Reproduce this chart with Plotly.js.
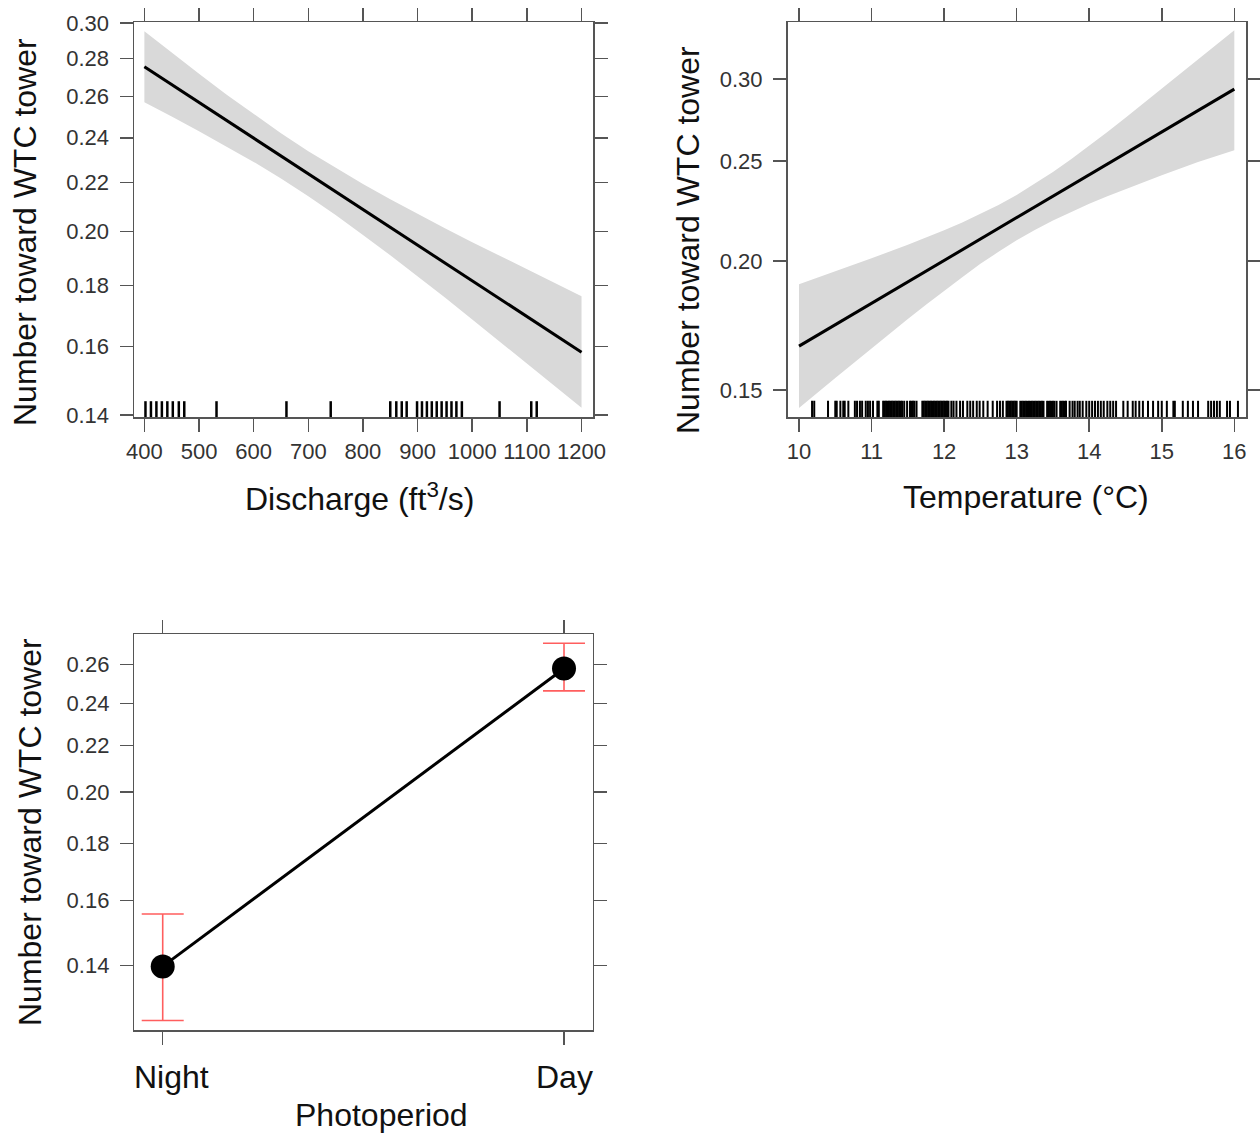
<!DOCTYPE html>
<html>
<head>
<meta charset="utf-8">
<script src="https://cdn.plot.ly/plotly-3.0.1.min.js"></script>
<style>html,body{margin:0;padding:0;background:#fff;}#chart{width:1260px;height:1133px;}</style>
</head>
<body>
<div id="chart"></div>
<script>
// ---- Panel 1: Discharge ----
const dischargeX     = [400, 450, 500, 550, 600, 650, 700, 750, 800, 850, 900, 950, 1000, 1050, 1100, 1150, 1200];
const dischargeFit   = [0.2755, 0.2661, 0.2570, 0.2483, 0.2398, 0.2317, 0.2238, 0.2162, 0.2088, 0.2017, 0.1948, 0.1882, 0.1818, 0.1756, 0.1696, 0.1638, 0.1582];
const dischargeUpper = [0.2952, 0.2831, 0.2718, 0.2611, 0.2512, 0.2421, 0.2338, 0.2263, 0.2194, 0.2130, 0.2070, 0.2013, 0.1959, 0.1908, 0.1858, 0.1810, 0.1764];
const dischargeLower = [0.2571, 0.2501, 0.2431, 0.2361, 0.2290, 0.2217, 0.2142, 0.2065, 0.1987, 0.1910, 0.1834, 0.1759, 0.1686, 0.1616, 0.1548, 0.1483, 0.1420];
const dischargeRug   = [402, 412, 422, 432, 442, 452, 463, 473, 532, 660, 741,
                        850, 861, 871, 880, 899, 908, 917, 926, 935, 944, 953, 962, 971, 981,
                        1050, 1108, 1118];
const dischargeTicks = [400, 500, 600, 700, 800, 900, 1000, 1100, 1200];
const dischargeYTicks = [0.14, 0.16, 0.18, 0.20, 0.22, 0.24, 0.26, 0.28, 0.30];

// ---- Panel 2: Temperature ----
const tempX     = [10, 10.5, 11, 11.5, 11.75, 12, 12.25, 12.5, 12.75, 13, 13.25, 13.5, 13.75, 14, 14.25, 14.5, 15, 15.5, 16];
const tempFit   = [0.1654, 0.1735, 0.1820, 0.1909, 0.1955, 0.2002, 0.2050, 0.2100, 0.2151, 0.2203, 0.2256, 0.2310, 0.2366, 0.2423, 0.2482, 0.2542, 0.2666, 0.2796, 0.2933];
const tempUpper = [0.1899, 0.1954, 0.2012, 0.2073, 0.2106, 0.2142, 0.2179, 0.2221, 0.2266, 0.2317, 0.2375, 0.2439, 0.2509, 0.2585, 0.2666, 0.2752, 0.2936, 0.3137, 0.3345];
const tempLower = [0.1441, 0.1541, 0.1646, 0.1757, 0.1814, 0.1872, 0.1929, 0.1987, 0.2041, 0.2094, 0.2143, 0.2189, 0.2232, 0.2272, 0.2310, 0.2348, 0.2421, 0.2493, 0.2560];
const tempRug = [10.18, 10.21, 10.40, 10.50, 10.52, 10.57, 10.61, 10.63, 10.68, 10.77, 10.80, 10.84, 10.87,
  10.92, 10.95, 10.98, 11.02, 11.08, 11.10,
  11.16, 11.18, 11.20, 11.22, 11.24, 11.26, 11.28, 11.30, 11.32, 11.34, 11.36, 11.38, 11.40, 11.42,
  11.45, 11.49, 11.53, 11.55, 11.57, 11.59, 11.62,
  11.70, 11.72, 11.74, 11.76, 11.78, 11.80, 11.82, 11.84, 11.86, 11.88, 11.90, 11.92, 11.94, 11.96, 11.98, 12.00, 12.02, 12.04,
  12.06, 12.10, 12.13, 12.17, 12.22, 12.26, 12.32, 12.36, 12.40, 12.45, 12.49, 12.54, 12.60, 12.67, 12.73, 12.77, 12.81,
  12.86, 12.88, 12.90, 12.92, 12.94, 12.96, 12.98, 13.00,
  13.05, 13.07, 13.09, 13.11, 13.13, 13.15, 13.17, 13.19, 13.21, 13.23, 13.25, 13.27, 13.29, 13.31, 13.33, 13.35, 13.37,
  13.42, 13.44, 13.46, 13.48, 13.50, 13.52, 13.55,
  13.60, 13.62, 13.64, 13.66, 13.68, 13.73, 13.77, 13.80, 13.84, 13.87,
  13.91, 13.96, 14.00, 14.04, 14.08, 14.12, 14.16, 14.20, 14.25, 14.29, 14.33, 14.37,
  14.47, 14.53, 14.60, 14.64, 14.69, 14.74, 14.81, 14.88, 14.95, 15.00, 15.07, 15.16, 15.18,
  15.29, 15.36, 15.43, 15.50, 15.64, 15.68, 15.72, 15.76, 15.80, 15.90, 15.94, 16.05];
const tempTicks = [10, 11, 12, 13, 14, 15, 16];
const tempYTicks = [0.15, 0.20, 0.25, 0.30];

// ---- Panel 3: Photoperiod ----
const photoCats  = ['Night', 'Day'];
const photoFit   = [0.1398, 0.2578];
const photoLower = [0.1251, 0.2462];
const photoUpper = [0.1557, 0.2715];
const photoYTicks = [0.14, 0.16, 0.18, 0.20, 0.22, 0.24, 0.26];

const FONT = 'Liberation Sans, Arial, sans-serif';
const W = 1260, H = 1133;
const px = v => v / W;
const py = v => 1 - v / H;

function band(xs, up, lo, xa, ya) {
  return {
    x: xs.concat(xs.slice().reverse()),
    y: up.concat(lo.slice().reverse()),
    xaxis: xa, yaxis: ya, type: 'scatter', mode: 'lines',
    fill: 'toself', fillcolor: '#d9d9d9', line: {width: 0, color: '#d9d9d9'},
    hoverinfo: 'skip', showlegend: false
  };
}

const traces = [
  band(dischargeX, dischargeUpper, dischargeLower, 'x', 'y'),
  {x: dischargeX, y: dischargeFit, xaxis: 'x', yaxis: 'y', type: 'scatter', mode: 'lines',
   line: {color: '#000', width: 3}, showlegend: false},
  band(tempX, tempUpper, tempLower, 'x2', 'y2'),
  {x: tempX, y: tempFit, xaxis: 'x2', yaxis: 'y2', type: 'scatter', mode: 'lines',
   line: {color: '#000', width: 3}, showlegend: false},
  {x: photoCats, y: photoFit, xaxis: 'x3', yaxis: 'y3', type: 'scatter', mode: 'lines+markers',
   line: {color: '#000', width: 3}, marker: {color: '#000', size: 24},
   error_y: {type: 'data', symmetric: false,
             array: photoUpper.map((u, i) => u - photoFit[i]),
             arrayminus: photoFit.map((f, i) => f - photoLower[i]),
             color: '#ff5e5e', thickness: 1.6, width: 21},
   showlegend: false}
];

const shapes = [];
dischargeRug.forEach(v => shapes.push({type: 'line', xref: 'x', yref: 'y domain', x0: v, x1: v, y0: 0, y1: 0.04,
  line: {color: '#000', width: 2.5}}));
tempRug.forEach(v => shapes.push({type: 'line', xref: 'x2', yref: 'y2 domain', x0: v, x1: v, y0: 0, y1: 0.041,
  line: {color: '#000', width: 2}}));

function axisStyle(extra) {
  return Object.assign({
    showline: true, mirror: 'ticks', linecolor: '#555', linewidth: 1.5,
    ticks: 'outside', ticklen: 13, tickwidth: 1.5, tickcolor: '#555',
    showgrid: false, zeroline: false,
    tickfont: {family: FONT, size: 22, color: '#333'}
  }, extra);
}

const titleFont = {family: FONT, size: 32, color: '#111'};

const layout = {
  width: W, height: H, margin: {l: 0, r: 0, t: 0, b: 0},
  paper_bgcolor: '#fff', plot_bgcolor: '#fff', showlegend: false,
  font: {family: FONT, color: '#111'},
  xaxis: axisStyle({domain: [px(134), px(593)], anchor: 'y', range: [381, 1221],
    tickvals: dischargeTicks, ticklabelstandoff: 1}),
  yaxis: axisStyle({domain: [py(417), py(22)], anchor: 'x', type: 'log', range: [-0.85556, -0.52204],
    tickvals: dischargeYTicks, tickformat: '.2f', ticklabelstandoff: 6}),
  xaxis2: axisStyle({domain: [px(787.5), px(1246)], anchor: 'y2', range: [9.8415, 16.161],
    tickvals: tempTicks, ticklabelstandoff: 1}),
  yaxis2: axisStyle({domain: [py(417), py(22)], anchor: 'x2', type: 'log', range: [-0.85005, -0.46767],
    tickvals: tempYTicks, tickformat: '.2f', ticklabelstandoff: 6}),
  xaxis3: axisStyle({domain: [px(134.3), px(592.7)], anchor: 'y3', type: 'category', range: [-0.0708, 1.0715],
    showticklabels: false}),
  yaxis3: axisStyle({domain: [py(1030), py(634)], anchor: 'x3', type: 'log', range: [-0.91123, -0.55797],
    tickvals: photoYTicks, tickformat: '.2f', ticklabelstandoff: 6}),
  shapes: shapes,
  annotations: [
    {text: 'Number toward WTC tower', xref: 'paper', yref: 'paper', x: px(25), y: py(232), textangle: -90,
     showarrow: false, xanchor: 'center', yanchor: 'middle', font: titleFont},
    {text: 'Number toward WTC tower', xref: 'paper', yref: 'paper', x: px(688), y: py(240), textangle: -90,
     showarrow: false, xanchor: 'center', yanchor: 'middle', font: titleFont},
    {text: 'Number toward WTC tower', xref: 'paper', yref: 'paper', x: px(30), y: py(832), textangle: -90,
     showarrow: false, xanchor: 'center', yanchor: 'middle', font: titleFont},
    {text: 'Discharge (ft<sup>3</sup>/s)', xref: 'paper', yref: 'paper', x: px(359), y: py(497),
     showarrow: false, xanchor: 'center', yanchor: 'middle', font: titleFont},
    {text: 'Temperature (°C)', xref: 'paper', yref: 'paper', x: px(1026), y: py(497),
     showarrow: false, xanchor: 'center', yanchor: 'middle', font: titleFont},
    {text: 'Photoperiod', xref: 'paper', yref: 'paper', x: px(381), y: py(1115),
     showarrow: false, xanchor: 'center', yanchor: 'middle', font: titleFont},
    {text: photoCats[0], xref: 'x3', yref: 'paper', x: photoCats[0], y: py(1077), xshift: 9,
     showarrow: false, xanchor: 'center', yanchor: 'middle', font: titleFont},
    {text: photoCats[1], xref: 'x3', yref: 'paper', x: photoCats[1], y: py(1077),
     showarrow: false, xanchor: 'center', yanchor: 'middle', font: titleFont}
  ]
};

Plotly.newPlot('chart', traces, layout, {displayModeBar: false, staticPlot: true});
</script>
</body>
</html>
